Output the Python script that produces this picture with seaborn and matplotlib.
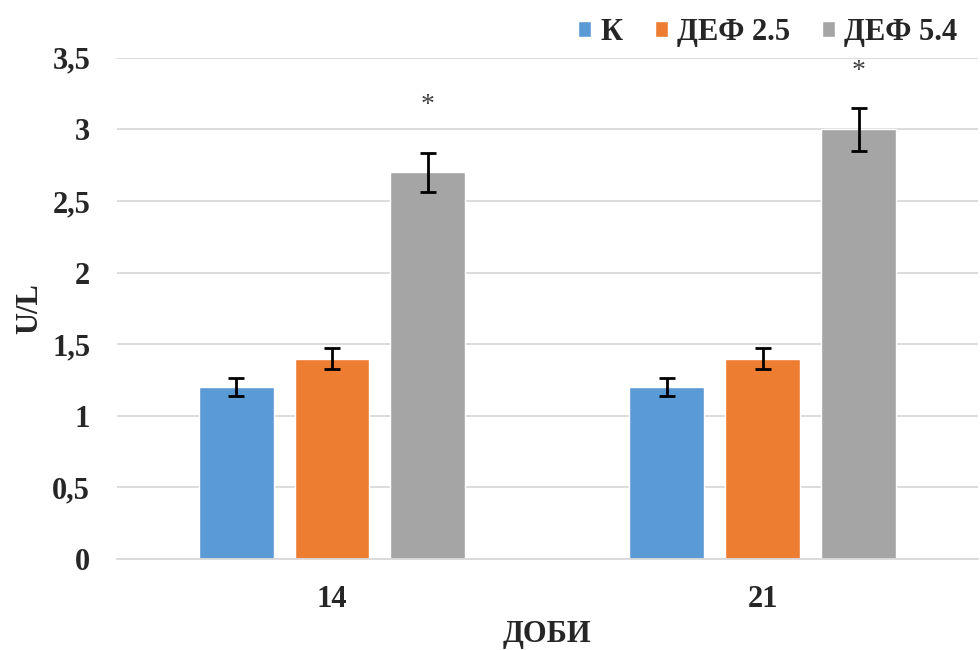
import numpy as np
import pandas as pd
import seaborn as sns
import matplotlib.pyplot as plt
from matplotlib.patches import Patch

days = ["14", "21"]
groups = ["К", "ДЕФ 2.5", "ДЕФ 5.4"]
values = {"К": [1.2, 1.2], "ДЕФ 2.5": [1.4, 1.4], "ДЕФ 5.4": [2.7, 3.0]}
errors = {"К": [0.063, 0.063], "ДЕФ 2.5": [0.072, 0.072], "ДЕФ 5.4": [0.135, 0.15]}
stars = {"ДЕФ 5.4": [3.165, 3.405]}
colors = ["#5B9BD5", "#ED7D31", "#A5A5A5"]
yticks = [0, 0.5, 1, 1.5, 2, 2.5, 3, 3.5]
ytick_labels = ["0", "0,5", "1", "1,5", "2", "2,5", "3", "3,5"]

rows = []
for g in groups:
    for i, d in enumerate(days):
        rows.append({"day": d, "group": g, "value": values[g][i], "err": errors[g][i]})
df = pd.DataFrame(rows)

sns.set_theme(style="white")
plt.rcParams["font.family"] = ["Liberation Serif", "DejaVu Serif"]
plt.rcParams["font.weight"] = "bold"

fig = plt.figure(figsize=(9.8, 6.5), dpi=100)
ax = fig.add_axes([0.119, 0.14, 0.879, 0.771])

sns.barplot(data=df, x="day", y="value", hue="group", order=days, hue_order=groups,
            palette=colors, width=0.6675, gap=0.22, errorbar=None, saturation=1,
            legend=False, ax=ax)

# error bars and stars on bar centres
for gi, g in enumerate(groups):
    cont = ax.containers[gi]
    xs = [p.get_x() + p.get_width() / 2 for p in cont.patches]
    ax.errorbar(xs, values[g], yerr=errors[g], fmt="none", ecolor="black",
                elinewidth=2, capsize=5.5, capthick=2, zorder=3)
    if g in stars:
        for x, y in zip(xs, stars[g]):
            ax.text(x, y, "*", ha="center", va="center", fontsize=20,
                    fontweight="normal", color="#404040")

ax.set_xlim(-0.5, 1.5)
ax.set_ylim(0, 3.5)
ax.set_yticks(yticks)
ax.set_yticklabels(ytick_labels)
ax.grid(axis="y", color="#d9d9d9", linewidth=1.3)
ax.set_axisbelow(True)
for s in ["top", "right", "left"]:
    ax.spines[s].set_visible(False)
ax.spines["bottom"].set_color("#d9d9d9")
ax.spines["bottom"].set_linewidth(1.3)
ax.tick_params(axis="y", length=0, pad=19, labelsize=22)
ax.tick_params(axis="x", length=0, pad=19, labelsize=22)
for lab in ax.get_xticklabels() + ax.get_yticklabels():
    lab.set_fontweight("bold")

ax.set_xlabel("ДОБИ", fontsize=22, fontweight="bold", labelpad=4)
ax.set_ylabel("U/L", fontsize=22, fontweight="bold", labelpad=6)

handles = [Patch(facecolor=c, label=g) for c, g in zip(colors, groups)]
leg = fig.legend(handles=handles, loc="upper right", bbox_to_anchor=(0.996, 1.0), ncol=3,
                 frameon=False, borderpad=0.1, handlelength=0.43, handleheight=0.43,
                 handletextpad=0.3, columnspacing=1.05, prop={"size": 22, "weight": "bold"})

fig.savefig("out.png", dpi=100)
